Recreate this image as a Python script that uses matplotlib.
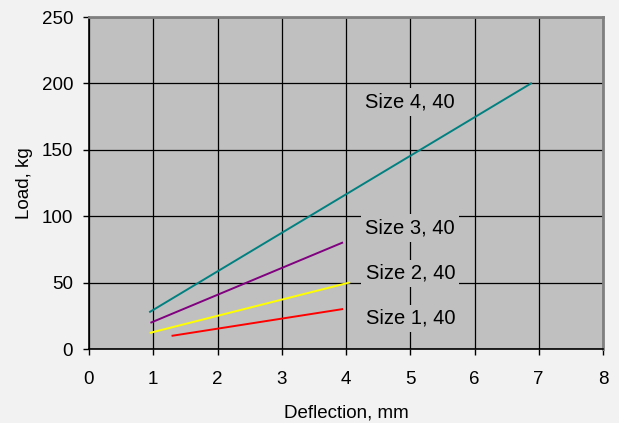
import matplotlib
matplotlib.use("Agg")
import matplotlib.pyplot as plt

plt.rcParams['font.family'] = ['Liberation Sans', 'DejaVu Sans']

series_names = ["Size 1, 40", "Size 2, 40", "Size 3, 40", "Size 4, 40"]
deflection = [[1.3, 3.94], [0.96, 4.05], [0.97, 3.94], [0.95, 6.88]]
load = [[10, 30], [12.3, 50], [20, 80], [28, 200]]
colors = ["#FF0000", "#FFFF00", "#800080", "#008080"]
label_pos = [(5.0, 23), (5.0, 57), (5.0, 91), (5.0, 186)]

x_ticks = [0, 1, 2, 3, 4, 5, 6, 7, 8]
y_ticks = [0, 50, 100, 150, 200, 250]

fig = plt.figure(figsize=(6.19, 4.23), dpi=100, facecolor="#F2F2F2")
ax = fig.add_axes([89/619, 1 - 349/423, (603 - 89)/619, (349 - 17)/423])
ax.set_facecolor("#C0C0C0")

for xs, ys, c in zip(deflection, load, colors):
    ax.plot(xs, ys, color=c, lw=1.4, zorder=3)

for name, (lx, ly) in zip(series_names, label_pos):
    ax.text(lx, ly, name, fontsize=14.5, ha="center", va="center", color="#000000",
            bbox=dict(facecolor="#C0C0C0", edgecolor="none", pad=3), zorder=4)

ax.set_xlim(0, 8)
ax.set_ylim(0, 250)
ax.set_xticks(x_ticks)
ax.set_yticks(y_ticks)
ax.grid(True, color="black", lw=0.9, zorder=1)
ax.set_axisbelow(True)
ax.tick_params(direction="out", length=4.5, width=1, color="black", labelsize=13.5)
ax.tick_params(axis="x", pad=11)
ax.tick_params(axis="y", pad=7)

for s in ["top", "right"]:
    ax.spines[s].set_color("#808080")
    ax.spines[s].set_linewidth(2)
for s in ["left", "bottom"]:
    ax.spines[s].set_color("black")
    ax.spines[s].set_linewidth(1.2)

ax.set_xlabel("Deflection, mm", fontsize=13.5, labelpad=12)
ax.set_ylabel("Load, kg", fontsize=13.5, labelpad=6)

fig.savefig("out.png", dpi=100, facecolor=fig.get_facecolor())
